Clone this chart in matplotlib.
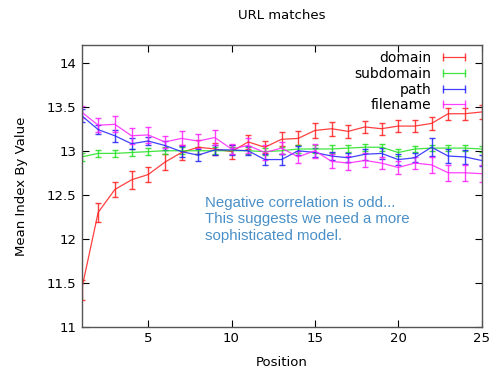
import matplotlib
matplotlib.use('Agg')
import matplotlib.pyplot as plt
from matplotlib.lines import Line2D

# Data
positions = list(range(1, 26))

domain = [11.42, 12.30, 12.56, 12.67, 12.73, 12.87, 12.98, 13.04, 13.02, 12.99, 13.10, 13.04, 13.13, 13.14, 13.23,
          13.25, 13.22, 13.27, 13.25, 13.28, 13.28, 13.31, 13.42, 13.42, 13.44]
domain_err = [0.11, 0.11, 0.09, 0.10, 0.09, 0.09, 0.08, 0.08, 0.07, 0.08, 0.08, 0.07, 0.08, 0.08, 0.08,
              0.08, 0.07, 0.07, 0.07, 0.07, 0.07, 0.07, 0.07, 0.07, 0.08]

subdomain = [12.93, 12.97, 12.97, 12.98, 12.99, 13.00, 13.00, 13.00, 13.00, 13.00, 13.00, 12.99, 13.00, 13.02, 13.02,
             13.02, 13.03, 13.04, 13.04, 12.98, 13.02, 13.03, 13.03, 13.03, 13.02]
subdomain_err = [0.05, 0.04, 0.04, 0.04, 0.04, 0.04, 0.04, 0.04, 0.04, 0.04, 0.04, 0.04, 0.04, 0.04, 0.04,
                 0.04, 0.04, 0.04, 0.04, 0.04, 0.03, 0.03, 0.03, 0.03, 0.03]

path = [13.40, 13.24, 13.17, 13.08, 13.11, 13.06, 12.99, 12.95, 13.01, 13.01, 13.00, 12.90, 12.90, 13.00, 12.98,
        12.94, 12.92, 12.96, 12.97, 12.90, 12.92, 13.04, 12.94, 12.93, 12.89]
path_err = [0.07, 0.05, 0.07, 0.06, 0.05, 0.05, 0.06, 0.07, 0.06, 0.06, 0.05, 0.06, 0.06, 0.05, 0.05,
            0.05, 0.05, 0.06, 0.06, 0.06, 0.05, 0.10, 0.08, 0.08, 0.06]

filename = [13.44, 13.29, 13.30, 13.17, 13.18, 13.10, 13.14, 13.11, 13.15, 13.02, 13.06, 12.98, 13.03, 12.93, 13.00,
            12.88, 12.86, 12.89, 12.86, 12.81, 12.86, 12.84, 12.75, 12.75, 12.74]
filename_err = [0.07, 0.08, 0.09, 0.09, 0.09, 0.07, 0.08, 0.08, 0.08, 0.06, 0.08, 0.08, 0.07, 0.07, 0.08,
                0.08, 0.08, 0.08, 0.07, 0.07, 0.07, 0.09, 0.09, 0.09, 0.10]

y_ticks = [11, 11.5, 12, 12.5, 13, 13.5, 14]
x_ticks = [5, 10, 15, 20, 25]

series = [
    ('domain', domain, domain_err, '#ff2020'),
    ('subdomain', subdomain, subdomain_err, '#20e020'),
    ('path', path, path_err, '#2020ff'),
    ('filename', filename, filename_err, '#ff20ff'),
]

fig = plt.figure(figsize=(5, 3.75), dpi=100)
ax = fig.add_axes([0.163, 0.128, 0.8, 0.752])

handles = []
for name, vals, errs, color in series:
    ax.errorbar(positions, vals, yerr=errs, color=color, lw=0.9, elinewidth=1.0,
                capsize=2.5, capthick=1.0, alpha=0.85)
    handles.append(Line2D([0], [0], color=color, lw=0.9, marker='|', markersize=6,
                          markeredgewidth=1.0, alpha=0.85))

ax.set_xlim(1, 25)
ax.set_ylim(11, 14.2)
ax.set_xticks(x_ticks)
ax.set_xticklabels([str(v) for v in x_ticks])
ax.set_yticks(y_ticks)
ax.set_yticklabels(['%g' % v for v in y_ticks])
ax.tick_params(direction='in', length=5, top=True, right=True, labelsize=9.5, width=0.8)
for s in ax.spines.values():
    s.set_color('#555555')
    s.set_linewidth(1.0)

ax.set_title('URL matches', fontsize=9.5, pad=19)
ax.set_xlabel('Position', fontsize=9.5, labelpad=8)
ax.set_ylabel('Mean Index By Value', fontsize=9.5, labelpad=14)

ax.legend(handles, [s[0] for s in series], loc='upper right', frameon=False, markerfirst=False,
          numpoints=2, fontsize=10, handlelength=2.2, labelspacing=0.12, handletextpad=0.5,
          bbox_to_anchor=(1.0, 1.022))

ax.text(0.308, 0.465, 'Negative correlation is odd...\nThis suggests we need a more\nsophisticated model.',
        transform=ax.transAxes, color='#4a90c8', fontsize=10.8, family='Liberation Sans',
        va='top', ha='left', linespacing=1.22)

fig.savefig('out.png', dpi=100)
